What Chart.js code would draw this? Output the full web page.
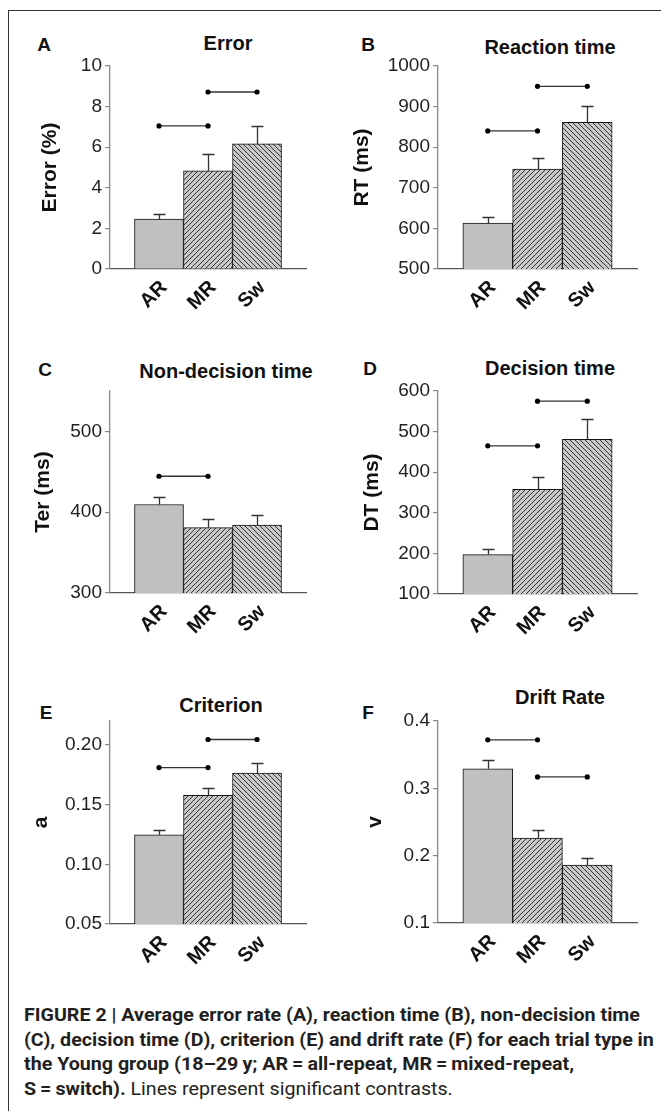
<!DOCTYPE html>
<html><head><meta charset="utf-8">
<script src="https://cdn.jsdelivr.net/npm/chart.js@4.4.1/dist/chart.umd.min.js"></script>
<style>
html,body{margin:0;padding:0;background:#fff;}
body{width:661px;height:1111px;position:relative;overflow:hidden;font-family:"Liberation Sans",Arial,sans-serif;}
#frame{position:absolute;left:8px;top:10px;right:-3px;bottom:-3px;border-top:1px solid #333;border-left:1px solid #333;}
canvas{position:absolute;}
.ttl{position:absolute;width:300px;text-align:center;font-weight:bold;font-size:20px;line-height:20px;color:#111;white-space:nowrap;}
.let{position:absolute;width:30px;text-align:center;font-weight:bold;font-size:19px;line-height:19px;color:#111;}
#cap{position:absolute;left:24px;top:1003px;font-family:Roboto,"Liberation Sans",Arial,sans-serif;font-size:18px;line-height:24.5px;color:#231f20;white-space:nowrap;transform-origin:0 0;}
#cap b{font-weight:700;}
.cl{display:block;}
#cap .cl span.m{display:inline-block;}
</style>
</head>
<body>
<div id="frame"></div>
<div id="cap">
<div class="cl"><span class="m" id="l1"><b>FIGURE 2 | Average error rate (A), reaction time (B), non-decision time</b></span></div>
<div class="cl"><b>(C), decision time (D), criterion (E) and drift rate (F) for each trial type in</b></div>
<div class="cl"><b>the Young group (18–29&#8201;y; AR&#8201;=&#8201;all-repeat, MR&#8201;=&#8201;mixed-repeat,</b></div>
<div class="cl"><b>S&#8201;=&#8201;switch).</b> Lines represent significant contrasts.</div>
</div>
<script>
// ---- data ----
const categories = ['AR', 'MR', 'Sw'];
const panelLetters = ['A', 'B', 'C', 'D', 'E', 'F'];
const panelTitles = ['Error', 'Reaction time', 'Non-decision time', 'Decision time', 'Criterion', 'Drift Rate'];
const yTitles = ['Error (%)', 'RT (ms)', 'Ter (ms)', 'DT (ms)', 'a', 'v'];

const errorMeans = [2.46, 4.83, 6.16];
const errorSE    = [0.27, 0.84, 0.90];
const rtMeans    = [613, 746, 861];
const rtSE       = [16, 27, 41];
const terMeans   = [409.5, 381, 384];
const terSE      = [9.5, 10, 12];
const dtMeans    = [197, 358, 481];
const dtSE       = [13, 31, 50];
const critMeans  = [0.1247, 0.1577, 0.1764];
const critSE     = [0.0038, 0.0062, 0.0084];
const driftMeans = [0.329, 0.226, 0.186];
const driftSE    = [0.0127, 0.012, 0.0105];

// significant contrasts: [fromCategory, toCategory, height]
const errorSig = [[0, 1, 7.05], [1, 2, 8.72]];
const rtSig    = [[0, 1, 840], [1, 2, 950]];
const terSig   = [[0, 1, 444.5]];
const dtSig    = [[0, 1, 465], [1, 2, 575]];
const critSig  = [[0, 1, 0.181], [1, 2, 0.2045]];
const driftSig = [[0, 1, 0.372], [1, 2, 0.317]];

// y axis: [min, max, step, decimals]
const errorAxis = [0, 10, 2, 0];
const rtAxis    = [500, 1000, 100, 0];
const terAxis   = [300, 550, 100, 0];
const dtAxis    = [100, 600, 100, 0];
const critAxis  = [0.05, 0.22, 0.05, 2];
const driftAxis = [0.1, 0.4, 0.1, 1];

// ---- layout ----
const FONT = '"Liberation Sans", Arial, sans-serif';
const panels = [
  {means: errorMeans, se: errorSE, sig: errorSig, axis: errorAxis, x0: 14, y0: 50, w: 316, h: 290, ax: 110, ar: 314, yt: 66, yb: 269, tp: 25.5,
   title: [228, 43], letter: [44, 44]},
  {means: rtMeans, se: rtSE, sig: rtSig, axis: rtAxis, x0: 335, y0: 50, w: 326, h: 290, ax: 438, ar: 644, yt: 66, yb: 269, tp: 16.5,
   title: [550, 47], letter: [368, 44]},
  {means: terMeans, se: terSE, sig: terSig, axis: terAxis, x0: 14, y0: 375, w: 316, h: 290, ax: 110, ar: 314, yt: 391, yb: 593, tp: 18.5,
   title: [226, 371], letter: [45, 369]},
  {means: dtMeans, se: dtSE, sig: dtSig, axis: dtAxis, x0: 335, y0: 375, w: 326, h: 290, ax: 438, ar: 644, yt: 391, yb: 594, tp: 26.5,
   title: [550, 368], letter: [370, 368]},
  {means: critMeans, se: critSE, sig: critSig, axis: critAxis, x0: 14, y0: 705, w: 316, h: 290, ax: 110, ar: 314, yt: 721, yb: 924, tp: 16.5,
   title: [221, 705], letter: [46, 712]},
  {means: driftMeans, se: driftSE, sig: driftSig, axis: driftAxis, x0: 335, y0: 705, w: 326, h: 290, ax: 438, ar: 644, yt: 721, yb: 923, tp: 29.5,
   title: [560, 697], letter: [368, 712]}
];

function makeHatch(ctx, dir) {
  const s = 5;
  const c = document.createElement('canvas');
  c.width = s; c.height = s;
  const g = c.getContext('2d');
  g.fillStyle = '#c8c8c8';
  g.fillRect(0, 0, s, s);
  g.strokeStyle = '#333';
  g.lineWidth = 1;
  g.beginPath();
  if (dir > 0) {
    g.moveTo(0, s); g.lineTo(s, 0);
    g.moveTo(-1, 1); g.lineTo(1, -1);
    g.moveTo(s - 1, s + 1); g.lineTo(s + 1, s - 1);
  } else {
    g.moveTo(0, 0); g.lineTo(s, s);
    g.moveTo(-1, s - 1); g.lineTo(1, s + 1);
    g.moveTo(s - 1, -1); g.lineTo(s + 1, 1);
  }
  g.stroke();
  return ctx.createPattern(c, 'repeat');
}

panels.forEach((p, idx) => {
  const t = document.createElement('div');
  t.className = 'ttl';
  t.textContent = panelTitles[idx];
  t.style.left = (p.title[0] - 150) + 'px';
  t.style.top = (p.title[1] - 10) + 'px';
  document.body.appendChild(t);
  const l = document.createElement('div');
  l.className = 'let';
  l.textContent = panelLetters[idx];
  l.style.left = (p.letter[0] - 15) + 'px';
  l.style.top = (p.letter[1] - 9.5) + 'px';
  document.body.appendChild(l);

  const cv = document.createElement('canvas');
  cv.width = p.w; cv.height = p.h;
  cv.style.left = p.x0 + 'px'; cv.style.top = p.y0 + 'px';
  cv.style.width = p.w + 'px'; cv.style.height = p.h + 'px';
  document.body.appendChild(cv);
  const ctx = cv.getContext('2d');

  const fills = ['#c0c0c0', makeHatch(ctx, 1), makeHatch(ctx, -1)];
  const [ymin, ymax, ystep, dec] = p.axis;

  const datasets = [{
    type: 'bar',
    data: p.means.map((v, i) => ({x: i + 1, y: v})),
    backgroundColor: fills,
    borderColor: '#111',
    borderWidth: 1,
    borderSkipped: 'start',
    barPercentage: 1,
    categoryPercentage: 1,
    order: 2
  }];
  p.sig.forEach(s => {
    datasets.push({
      type: 'line',
      data: [{x: s[0] + 1, y: s[2]}, {x: s[1] + 1, y: s[2]}],
      borderColor: '#333',
      borderWidth: 1.3,
      pointRadius: 2.6,
      pointBackgroundColor: '#000',
      pointBorderColor: '#000',
      pointBorderWidth: 0,
      fill: false,
      clip: false,
      order: 1
    });
  });

  const errorBars = {
    id: 'errorBars' + idx,
    afterDatasetsDraw(chart) {
      const c = chart.ctx, xs = chart.scales.x, ys = chart.scales.y;
      c.save();
      c.strokeStyle = '#333';
      c.lineWidth = 1.3;
      p.means.forEach((m, i) => {
        const px = Math.round(xs.getPixelForValue(i + 1)) + 0.5;
        const py0 = ys.getPixelForValue(m);
        const py1 = Math.round(ys.getPixelForValue(m + p.se[i])) + 0.5;
        c.beginPath();
        c.moveTo(px, py0); c.lineTo(px, py1);
        c.moveTo(px - 6, py1); c.lineTo(px + 6, py1);
        c.stroke();
      });
      c.restore();
    }
  };

  new Chart(ctx, {
    type: 'bar',
    data: {datasets},
    options: {
      responsive: false,
      animation: false,
      events: [],
      layout: {padding: {left: 0, top: p.yt - p.y0, right: (p.x0 + p.w) - p.ar, bottom: 0}},
      plugins: {legend: {display: false}, tooltip: {enabled: false}, title: {display: false}},
      scales: {
        x: {
          type: 'linear',
          min: 0, max: 4,
          offset: false,
          afterFit: s => { s.height = (p.y0 + p.h) - p.yb; },
          grid: {display: false, drawTicks: false, offset: false},
          border: {display: true, color: '#555', width: 1.3},
          ticks: {
            stepSize: 1,
            autoSkip: false,
            minRotation: 45, maxRotation: 45,
            padding: 7,
            labelOffset: 5,
            color: '#111',
            font: {family: FONT, size: 20, weight: 'bold'},
            callback: v => (Number.isInteger(v) && v >= 1 && v <= 3) ? categories[v - 1] : ''
          }
        },
        y: {
          type: 'linear',
          min: ymin, max: ymax,
          afterFit: s => { s.width = p.ax - p.x0; },
          grid: {display: true, drawOnChartArea: false, drawTicks: true, tickLength: 5, color: '#888', lineWidth: 1.2},
          border: {display: true, color: '#888', width: 1.3},
          ticks: {
            stepSize: ystep,
            includeBounds: false,
            padding: 3,
            color: '#222',
            font: {family: FONT, size: 19},
            callback: v => Number(v).toFixed(dec)
          },
          title: {
            display: true,
            text: yTitles[idx],
            color: '#111',
            font: {family: FONT, size: 21, weight: 'bold', lineHeight: 1},
            padding: {top: p.tp, bottom: 0}
          }
        }
      }
    },
    plugins: [errorBars]
  });
});

// fit caption line widths to the reference
(function () {
  const cap = document.getElementById('cap');
  const l1 = document.getElementById('l1');
  const w = l1.getBoundingClientRect().width;
  const sx = 616 / w;
  cap.style.transform = 'scaleX(' + sx.toFixed(4) + ')';
})();
</script>
</body></html>
